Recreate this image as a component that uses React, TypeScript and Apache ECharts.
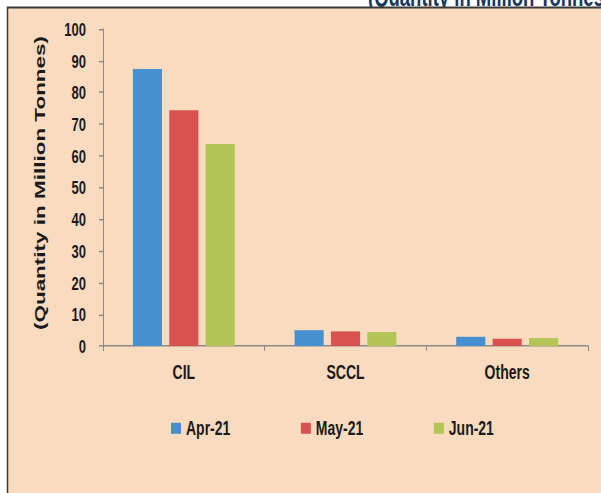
import React, { useEffect, useRef } from "react";
import * as echarts from "echarts";

const categories = ["CIL", "SCCL", "Others"];
const seriesNames = ["Apr-21", "May-21", "Jun-21"];
const apr21 = [87.4, 5.0, 2.9];
const may21 = [74.4, 4.6, 2.3];
const jun21 = [63.7, 4.4, 2.5];
const yTicks = { min: 0, max: 100, interval: 10 };
const axisTitle = "(Quantity in Million Tonnes)";
const topCaption = "(Quantity in Million Tonnes)";

const colors = ["#4690CF", "#D9524F", "#B3C555"];
const FONT = "'Liberation Sans', Arial, Helvetica, sans-serif";

// The reference picture is stretched vertically; draw at a lower height and
// stretch the whole chart with CSS so glyphs get the same tall look.
const W = 601;
const H = 493;
const K = 1.45;
const IH = H / K;
const y = (v: number) => v / K;

export default function App() {
  const ref = useRef<HTMLDivElement>(null);
  useEffect(() => {
    if (!ref.current) return;
    const chart = echarts.init(ref.current, undefined, { renderer: "svg" });
    const values = [apr21, may21, jun21];
    chart.setOption({
      animation: false,
      backgroundColor: "#ffffff",
      graphic: [
        {
          type: "text",
          z: -20,
          x: 368,
          y: y(10),
          style: {
            text: topCaption,
            fill: "#17375E",
            font: `bold 18.5px ${FONT}`,
            verticalAlign: "bottom",
          },
        },
        {
          type: "rect",
          z: -10,
          shape: { x: 7.5, y: y(7.5), width: 620, height: 520 },
          style: { fill: "#F9DBC0", stroke: "#3a3a3a", lineWidth: 1.5 },
        },
        {
          type: "text",
          z: 5,
          x: 40,
          y: y(183),
          rotation: Math.PI / 2,
          style: {
            text: axisTitle,
            fill: "#1a1a1a",
            font: `bold 15.5px ${FONT}`,
            align: "center",
            verticalAlign: "middle",
          },
        },
      ],
      grid: { left: 103, right: 13, top: y(29), bottom: IH - y(346), containLabel: false },
      legend: {
        left: 166,
        top: y(428) - 11.8,
        itemWidth: 10,
        itemHeight: 7.6,
        itemGap: 70.5,
        icon: "rect",
        data: seriesNames,
        textStyle: { color: "#1a1a1a", fontFamily: FONT, fontWeight: "bold", fontSize: 14 },
      },
      xAxis: {
        type: "category",
        data: categories,
        axisLine: { lineStyle: { color: "#8a8a8a", width: 1 } },
        axisTick: { show: true, length: 3.4, lineStyle: { color: "#8a8a8a" } },
        axisLabel: {
          margin: 11,
          color: "#1a1a1a",
          fontFamily: FONT,
          fontWeight: "bold",
          fontSize: 14,
        },
      },
      yAxis: {
        type: "value",
        min: yTicks.min,
        max: yTicks.max,
        interval: yTicks.interval,
        splitLine: { show: false },
        axisLine: { show: true, lineStyle: { color: "#8a8a8a", width: 1 } },
        axisTick: { show: true, length: 4, lineStyle: { color: "#8a8a8a" } },
        axisLabel: {
          margin: 17,
          color: "#1a1a1a",
          fontFamily: FONT,
          fontWeight: "bold",
          fontSize: 13,
        },
      },
      series: seriesNames.map((name, i) => ({
        name,
        type: "bar",
        data: values[i],
        barGap: "25%",
        barCategoryGap: "37%",
        itemStyle: { color: colors[i] },
      })),
    });
    return () => chart.dispose();
  }, []);
  return (
    <div
      style={{
        position: "absolute",
        left: 0,
        top: 0,
        width: W,
        height: H,
        overflow: "hidden",
        background: "#ffffff",
      }}
    >
      <div
        ref={ref}
        style={{
          width: W,
          height: IH,
          transform: `scaleY(${K})`,
          transformOrigin: "0 0",
        }}
      />
    </div>
  );
}
